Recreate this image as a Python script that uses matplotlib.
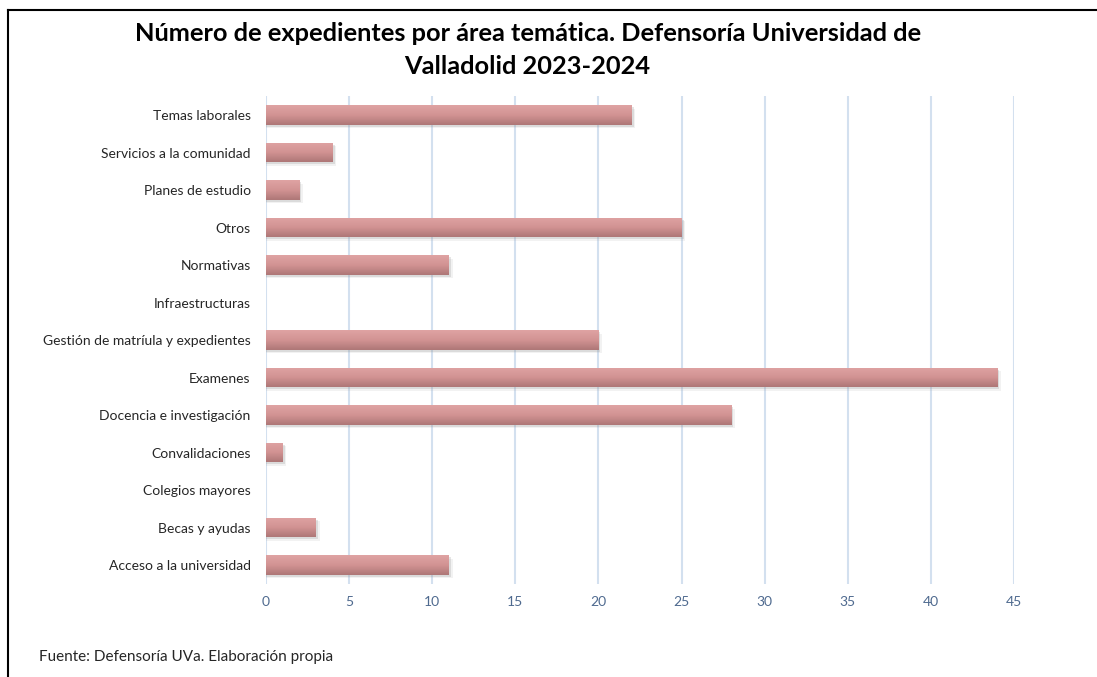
import numpy as np
import matplotlib.pyplot as plt
from matplotlib.lines import Line2D
from matplotlib.colors import LinearSegmentedColormap

plt.rcParams['font.family'] = ['Lato', 'DejaVu Sans']

# datos (de abajo hacia arriba)
areas = ['Acceso a la universidad', 'Becas y ayudas', 'Colegios mayores', 'Convalidaciones',
         'Docencia e investigación', 'Examenes', 'Gestión de matríula y expedientes',
         'Infraestructuras', 'Normativas', 'Otros', 'Planes de estudio',
         'Servicios a la comunidad', 'Temas laborales']
expedientes = [11, 3, 0, 1, 28, 44, 20, 0, 11, 25, 2, 4, 22]
xticks = [0, 5, 10, 15, 20, 25, 30, 35, 40, 45]

fig = plt.figure(figsize=(10.97, 6.77), dpi=100)
ax = fig.add_axes([0.2425, 0.1377, 0.9243 - 0.2425, 0.8578 - 0.1377])

y = np.arange(len(areas))
h = 0.52
grad = LinearSegmentedColormap.from_list('g', ['#DFA3A3', '#D29393', '#AE7777'])

# sombra suave
for dx, dy, a in [(0.12, -0.05, 0.25), (0.22, -0.09, 0.12)]:
    ax.barh(y + dy, [v + dx if v > 0 else 0 for v in expedientes], height=h, left=0,
            color='#9A9A9A', alpha=a, zorder=2, linewidth=0)
bars = ax.barh(y, expedientes, height=h, color='#CC8E8E', zorder=3, linewidth=0)
g = np.linspace(0, 1, 100).reshape(-1, 1)
for b in bars:
    if b.get_width() <= 0:
        continue
    x0, y0 = b.get_x(), b.get_y()
    im = ax.imshow(g, cmap=grad, aspect='auto', extent=[x0, x0 + b.get_width(), y0, y0 + b.get_height()],
                   origin='upper', zorder=4)
    im.set_clip_path(b)

ax.set_xlim(0, 45)
ax.set_ylim(-0.5, len(areas) - 0.5)
ax.set_xticks(xticks)
ax.set_yticks(y)
ax.set_yticklabels(areas, fontsize=10, color='#262626')
ax.tick_params(axis='x', colors='#4F6A8F', labelsize=10, length=0, pad=9)
ax.tick_params(axis='y', length=0, pad=11)
for t in ax.get_xticklabels():
    t.set_color('#4F6A8F')
ax.grid(axis='x', color='#D3E0EF', linewidth=1.5, zorder=0)
ax.set_axisbelow(True)
for s in ax.spines.values():
    s.set_visible(False)

fig.text(0.481, 0.951, 'Número de expedientes por área temática. Defensoría Universidad de',
         ha='center', va='center', fontsize=18.3, fontweight='bold', color='black')
fig.text(0.481, 0.902, 'Valladolid 2023-2024',
         ha='center', va='center', fontsize=18.3, fontweight='bold', color='black')
fig.text(0.036, 0.030, 'Fuente: Defensoría UVa. Elaboración propia', ha='left', va='center',
         fontsize=11, color='#262626')

# marco
fig.add_artist(Line2D([8 / 1097, 8 / 1097], [0, 1 - 10 / 677], color='black', linewidth=1.5))
fig.add_artist(Line2D([8 / 1097, 1], [1 - 10 / 677, 1 - 10 / 677], color='black', linewidth=1.5))

fig.savefig('out.png', dpi=100)
